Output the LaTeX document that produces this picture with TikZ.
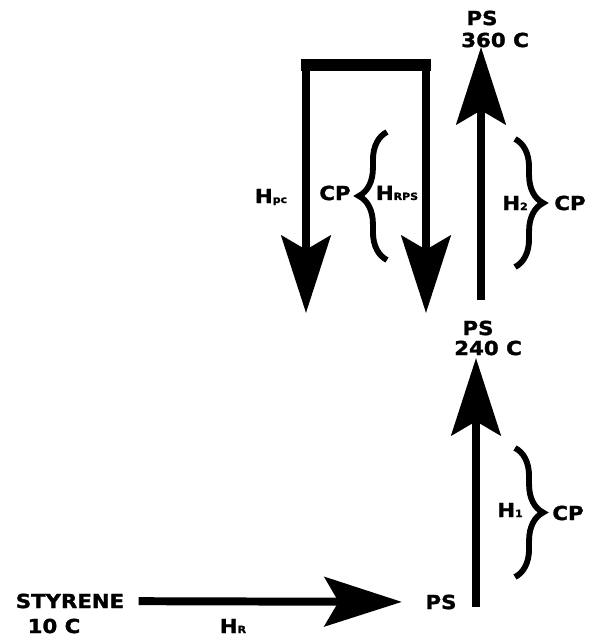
\documentclass[tikz,border=0pt]{standalone}
\usepackage{fontspec}
\newfontfamily\heavyfont[FakeStretch=1.1, FakeBold=1.6]{DejaVu Sans Bold}
\usetikzlibrary{arrows.meta, decorations.pathreplacing}
\tikzstyle{txt} = [inner sep=0pt, font=\fontsize{16.5}{18}\heavyfont]
\tikzstyle{flow} = [line width=6.8pt, -{Stealth[length=66pt, width=42pt, inset=12pt]}]
\tikzstyle{bar} = [line width=11pt]
\tikzstyle{curly} = [line width=5pt, decorate, decoration={brace, amplitude=24pt}]
\newcommand{\hsub}[1]{{\fontsize{8.5}{9}\selectfont #1}}

\begin{document}
\begin{tikzpicture}[x=0.03cm, y=-0.03cm]
    \useasboundingbox (0,0) rectangle (589,637);

    % bottom row
    \node (styrene) [txt] at (70,601) {STYRENE};
    \node (tenc) [txt] at (54,626) {10 C};
    \node (hr) [txt] at (233,626) {H\hsub{R}};
    \node (ps) [txt] at (441,602) {PS};

    % PS at 240 C
    \node (psmid) [txt] at (478,328) {PS};
    \node (midtemp) [txt] at (488,348) {240 C};
    \node (h1) [txt] at (510,510) {H\hsub{1}};
    \node (cp1) [txt] at (568,513) {CP};

    % PS at 360 C
    \node (pstop) [txt] at (482,18) {PS};
    \node (toptemp) [txt] at (495,40) {360 C};
    \node (h2) [txt] at (515,203) {H\hsub{2}};
    \node (cp2) [txt] at (570,203) {CP};

    % recycle loop
    \node (hpc) [txt] at (271,197) {H\hsub{pc}};
    \node (cp3) [txt] at (335,193) {CP};
    \node (hrps) [txt] at (397,193) {H\hsub{RPS}};

    \coordinate (base1) at (476,607);
    \coordinate (tip1) at (476,358);
    \coordinate (base2) at (481,300);
    \coordinate (tip2) at (481,47);
    \coordinate (topL) at (306,65);
    \coordinate (topR) at (426,65);
    \coordinate (tipL) at (306,313);
    \coordinate (tipR) at (426,313);

    \draw [flow, shorten <=12pt, shorten >=20pt] (styrene) -- (ps);
    \draw [flow] (base1) -- (tip1);
    \draw [flow] (base2) -- (tip2);
    \draw [bar, shorten <=-4pt, shorten >=-4pt] (topL) -- (topR);
    \draw [flow] ([yshift=-5pt]topL) -- (tipL);
    \draw [flow] ([yshift=-5pt]topR) -- (tipR);

    \draw [curly] (515,448) -- (515,577);
    \draw [curly] (515,139) -- (515,267);
    \draw [curly] (387,260) -- (387,132);
\end{tikzpicture}
\end{document}
